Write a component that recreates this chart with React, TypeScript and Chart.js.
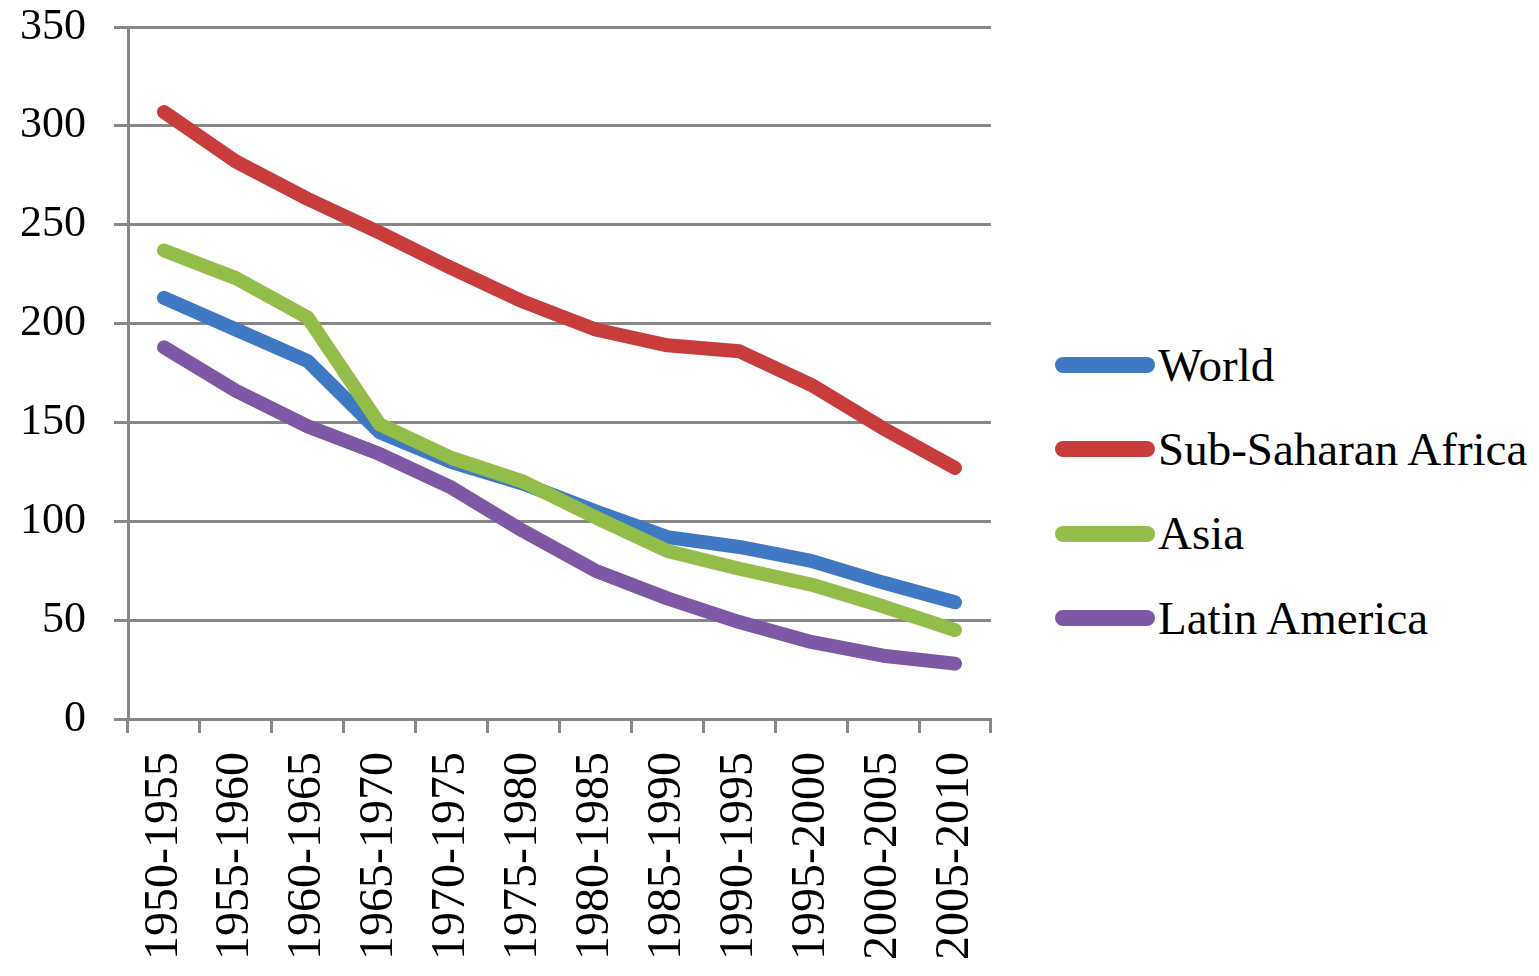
import React, { useEffect, useRef } from "react";
import { Chart, registerables } from "chart.js";

Chart.register(...registerables);

// Five-year periods on the horizontal axis
const periods = [
  "1950-1955", "1955-1960", "1960-1965", "1965-1970", "1970-1975", "1975-1980",
  "1980-1985", "1985-1990", "1990-1995", "1995-2000", "2000-2005", "2005-2010",
];

// Series values per period
const world = [213, 197, 181, 145, 130, 119, 105, 92, 87, 80, 69, 59];
const subSaharanAfrica = [307, 282, 263, 246, 228, 211, 197, 189, 186, 169, 147, 127];
const asia = [237, 223, 203, 149, 132, 120, 102, 85, 76, 68, 57, 45];
const latinAmerica = [188, 166, 148, 134, 117, 95, 75, 61, 49, 39, 32, 28];

const seriesNames = ["World", "Sub-Saharan Africa", "Asia", "Latin America"];
const seriesColors = ["#3f79c4", "#c93c3c", "#92bd48", "#7d58a5"];

const FONT = "'Liberation Serif', 'Times New Roman', serif";
const GRID = "#878787";

export default function App() {
  const canvasRef = useRef<HTMLCanvasElement | null>(null);

  useEffect(() => {
    const canvas = canvasRef.current;
    if (!canvas) return;
    const values = [world, subSaharanAfrica, asia, latinAmerica];
    const chart = new Chart(canvas, {
      type: "line",
      data: {
        labels: periods,
        datasets: values.map((data, i) => ({
          label: seriesNames[i],
          data,
          borderColor: seriesColors[i],
          backgroundColor: seriesColors[i],
          borderWidth: 14,
          borderCapStyle: "round" as const,
          borderJoinStyle: "round" as const,
          pointRadius: 0,
          tension: 0,
          // later series are painted above earlier ones
          order: values.length - i,
        })),
      },
      options: {
        animation: false,
        responsive: false,
        layout: { padding: { top: 27, left: 0, right: 10, bottom: 0 } },
        plugins: {
          legend: { display: false },
          tooltip: { enabled: false },
        },
        scales: {
          x: {
            offset: true,
            grid: {
              offset: true,
              drawOnChartArea: false,
              drawTicks: true,
              tickLength: 14,
              color: GRID,
              lineWidth: 3,
            },
            border: { display: true, color: GRID, width: 3 },
            ticks: {
              minRotation: 90,
              maxRotation: 90,
              autoSkip: false,
              padding: 19,
              color: "#000",
              font: { family: FONT, size: 48 },
            },
            afterFit: (scale: any) => {
              scale.height = 257;
            },
          },
          y: {
            min: 0,
            max: 350,
            ticks: {
              stepSize: 50,
              padding: 28,
              color: "#000",
              font: { family: FONT, size: 44 },
            },
            grid: {
              drawTicks: true,
              tickLength: 14,
              color: GRID,
              lineWidth: 3,
            },
            border: { display: true, color: GRID, width: 3 },
            afterFit: (scale: any) => {
              scale.width = 128;
              // the top label may overhang the plot; the layout padding covers it
              scale.paddingTop = 0;
              scale.paddingBottom = 0;
            },
          },
        },
      },
    });
    return () => chart.destroy();
  }, []);

  return (
    <div
      style={{
        position: "absolute",
        left: 0,
        top: 0,
        width: 1539,
        height: 976,
        background: "#fff",
        overflow: "hidden",
      }}
    >
      <canvas
        ref={canvasRef}
        width={1032}
        height={976}
        style={{ position: "absolute", left: 0, top: 0 }}
      />
      <div
        style={{
          position: "absolute",
          left: 1055,
          top: 323,
          fontFamily: FONT,
          fontSize: 47,
          color: "#000",
        }}
      >
        {seriesNames.map((name, i) => (
          <div
            key={name}
            style={{ display: "flex", alignItems: "center", height: 84.3 }}
          >
            <span
              style={{
                display: "inline-block",
                width: 100,
                height: 16,
                borderRadius: 8,
                background: seriesColors[i],
              }}
            />
            <span style={{ marginLeft: 3, lineHeight: 1, whiteSpace: "nowrap" }}>
              {name}
            </span>
          </div>
        ))}
      </div>
    </div>
  );
}
